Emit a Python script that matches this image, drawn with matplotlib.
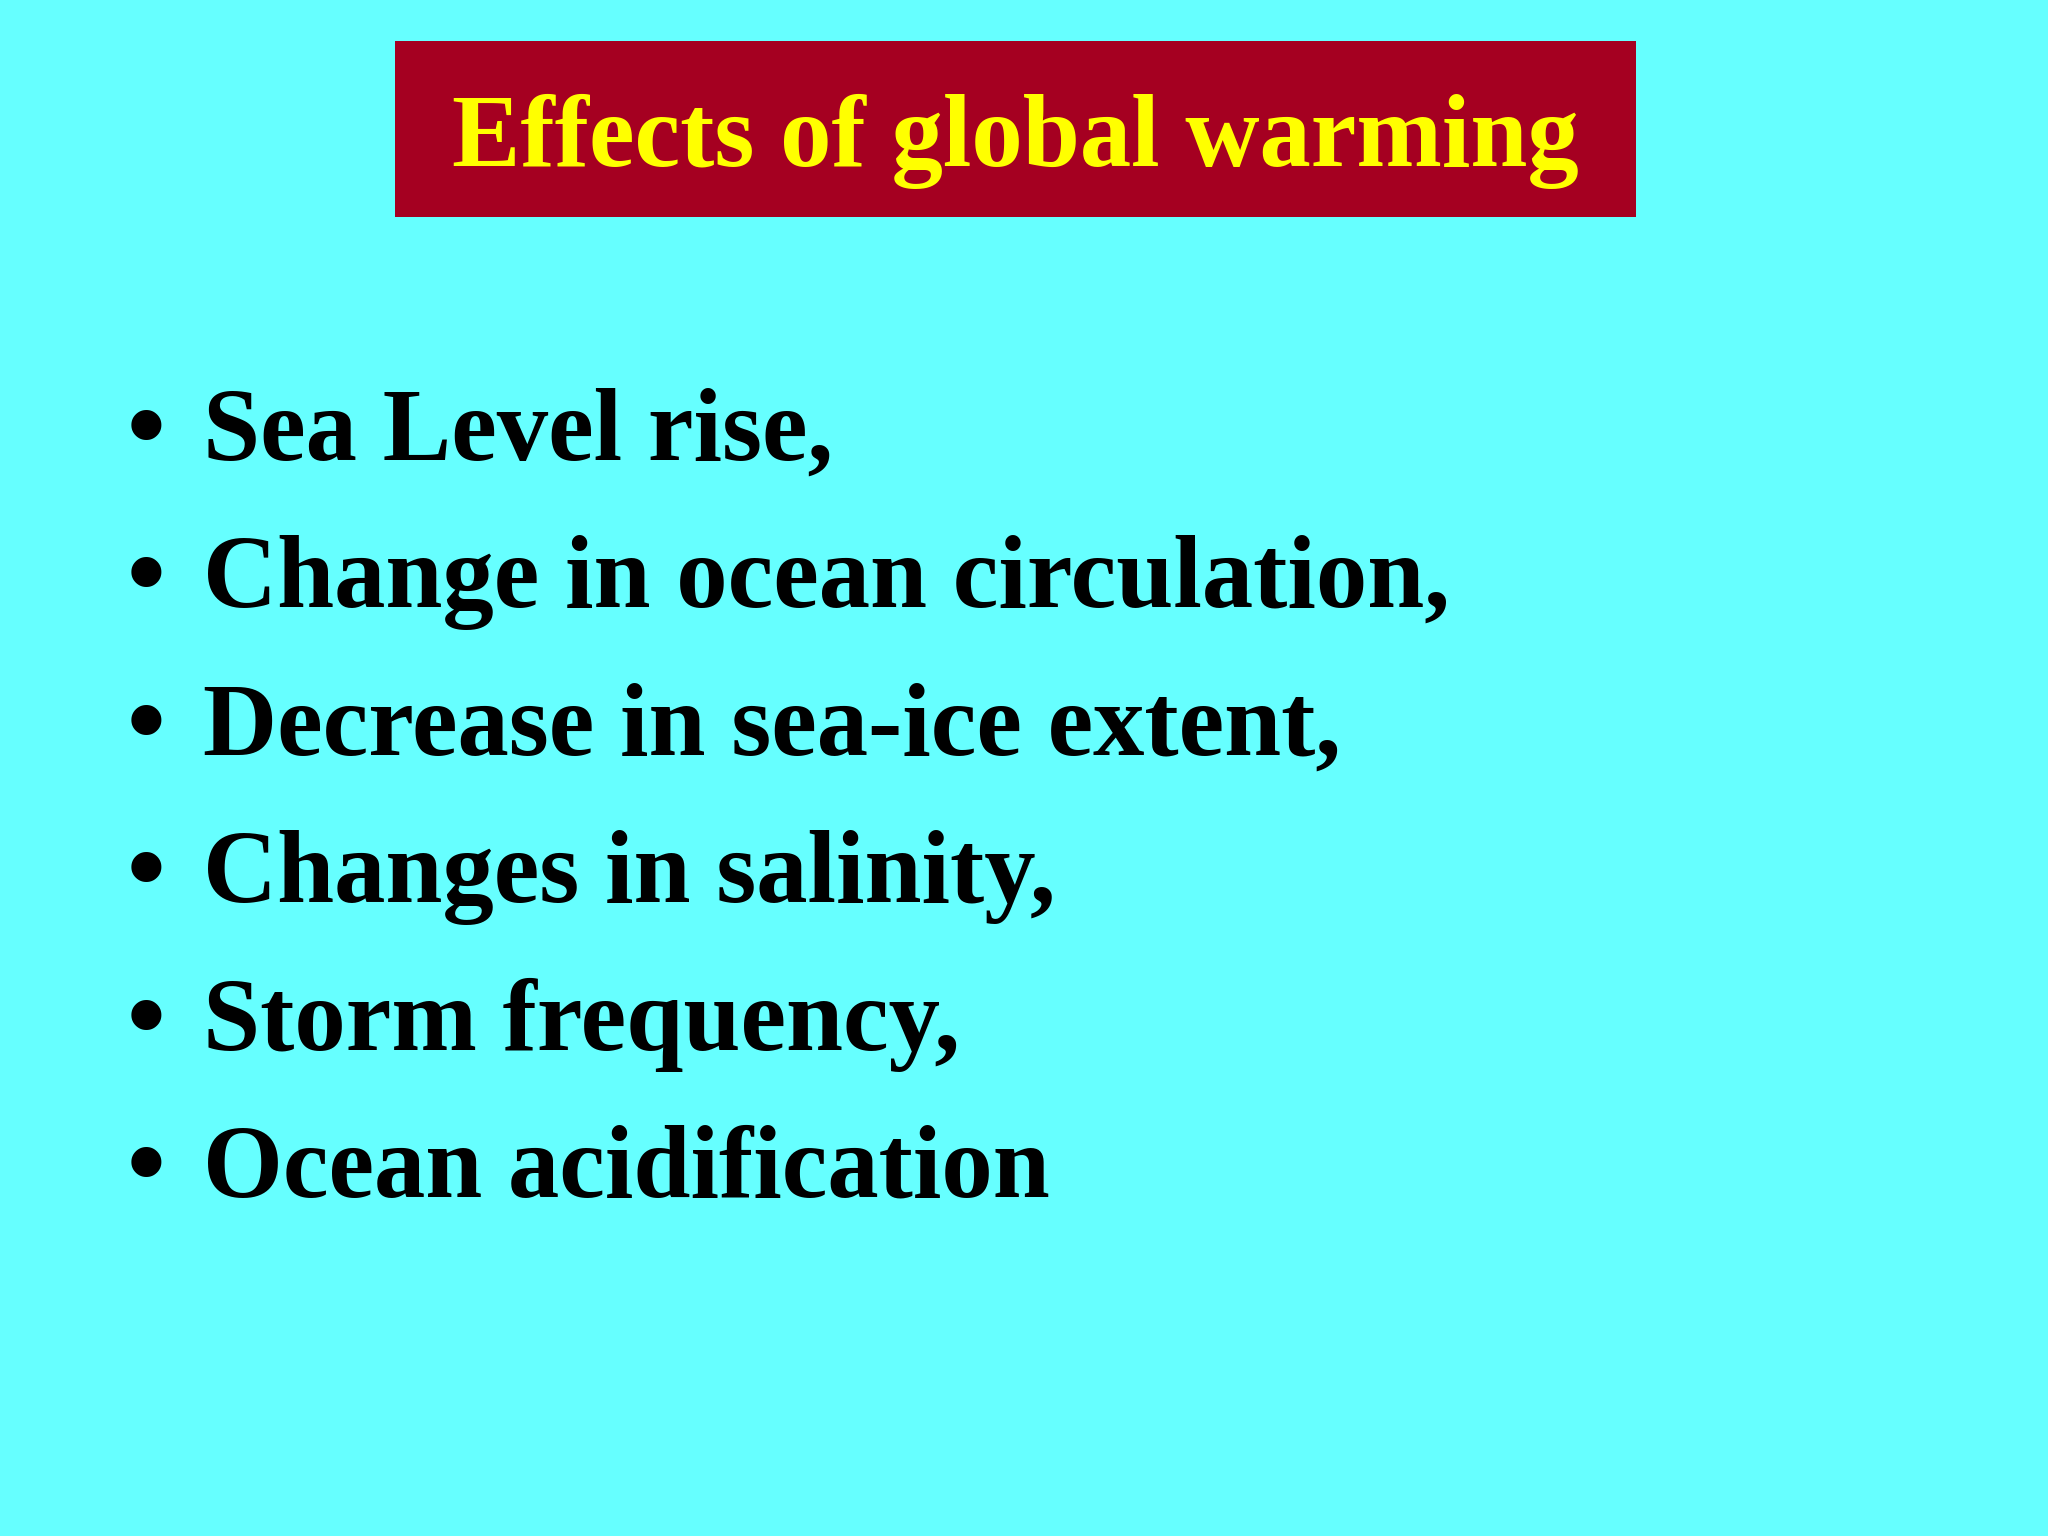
import matplotlib
matplotlib.use("Agg")
import matplotlib.pyplot as plt
from matplotlib.patches import Rectangle

title = "Effects of global warming"
items = ["Sea Level rise,", "Change in ocean circulation,", "Decrease in sea-ice extent,",
         "Changes in salinity,", "Storm frequency,", "Ocean acidification"]

fig = plt.figure(figsize=(20.48, 15.36), dpi=100)
fig.patch.set_facecolor("#66FFFF")
ax = fig.add_axes([0, 0, 1, 1])
ax.set_xlim(0, 1); ax.set_ylim(1, 0); ax.axis("off")
ax.add_patch(Rectangle((0.193, 0.027), 0.606, 0.114, facecolor="#A50021", edgecolor="none"))
ax.text(0.496, 0.092, title, ha="center", va="center", color="#FFFF00",
        family="Liberation Serif", weight="bold", fontsize=74)
for i, t in enumerate(items):
    y = 0.283 + i * 0.096
    ax.text(0.062, y, "•", ha="left", va="center", family="Liberation Serif", weight="bold",
            fontsize=80, color="black")
    ax.text(0.099, y, t, ha="left", va="center", family="Liberation Serif", weight="bold",
            fontsize=74, color="black")
fig.savefig("out.png", dpi=100, facecolor=fig.get_facecolor())
